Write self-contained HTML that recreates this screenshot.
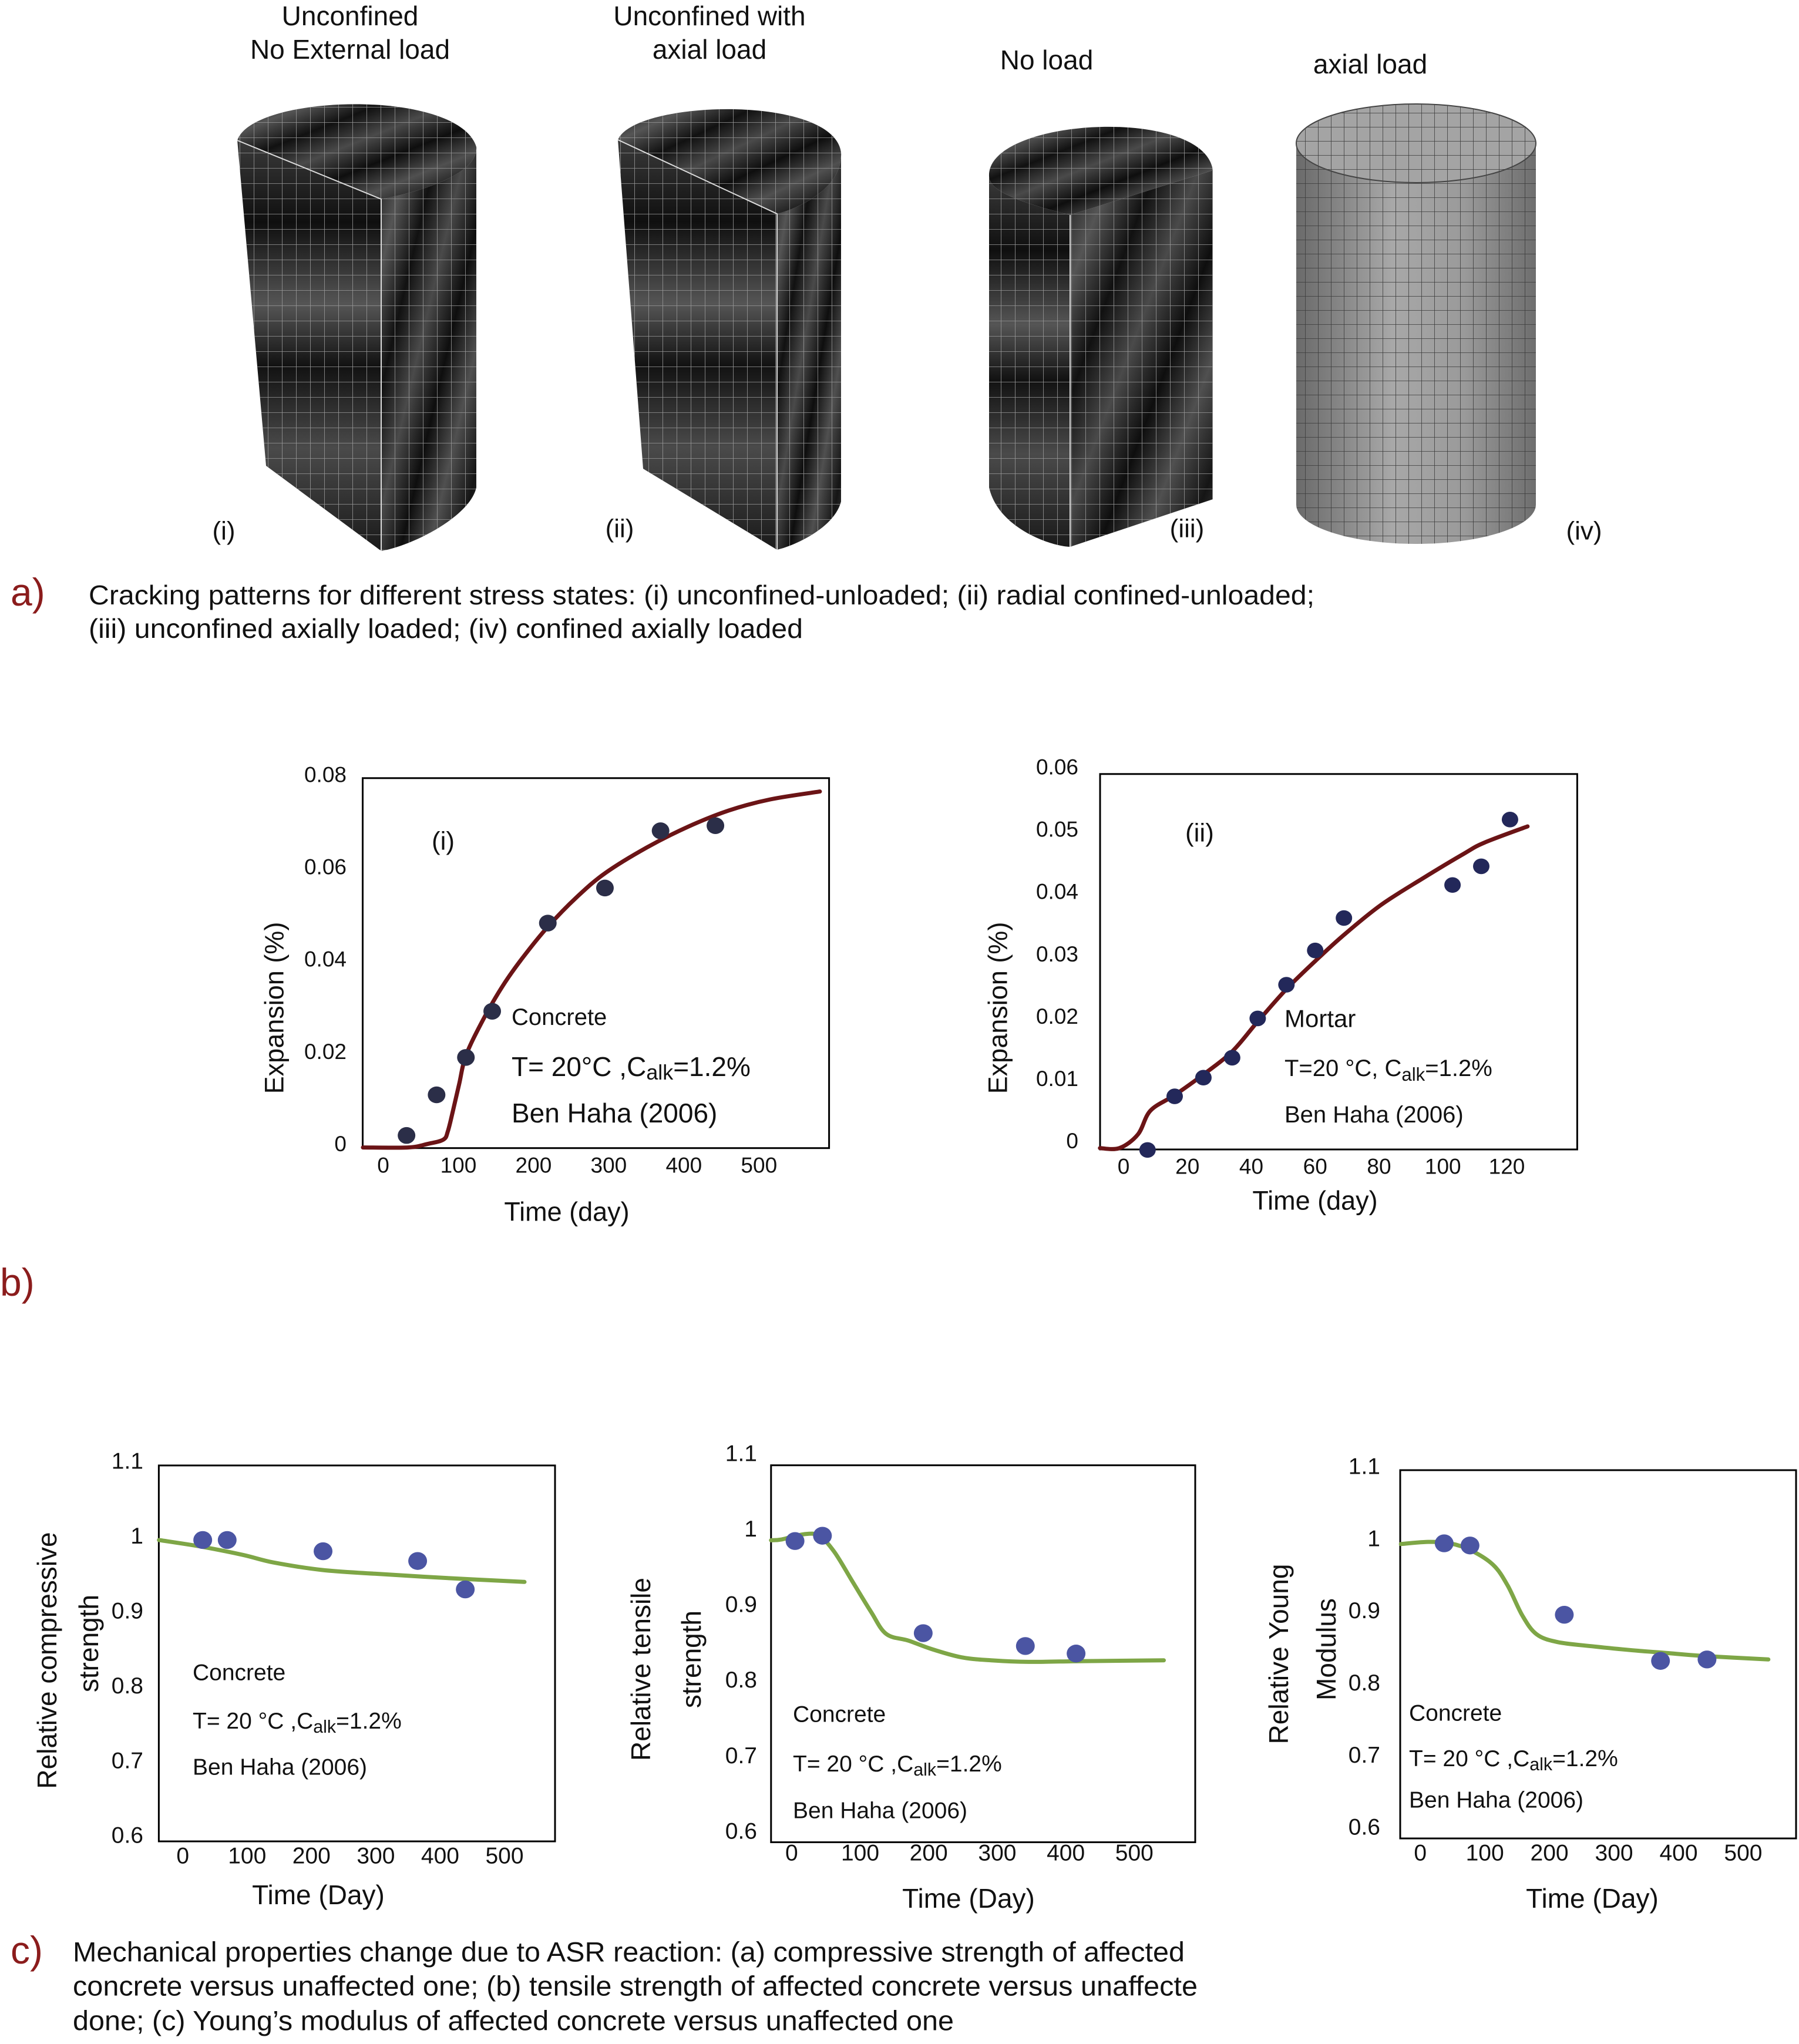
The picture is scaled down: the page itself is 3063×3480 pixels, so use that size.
<!DOCTYPE html>
<html><head><meta charset="utf-8"><style>
html,body{margin:0;padding:0;background:#fff}
svg{display:block;font-family:"Liberation Sans",Arial,sans-serif}
</style></head><body>
<svg id="root" width="3063" height="3480" viewBox="0 0 3063 3480" xmlns="http://www.w3.org/2000/svg">
<defs>
<pattern id="gridDark" width="24" height="26" patternUnits="userSpaceOnUse"><path d="M0 0H24M0 0V26" stroke="#9a9a9a" stroke-width="1.6" fill="none"/></pattern>
<pattern id="gridLight" width="22" height="24" patternUnits="userSpaceOnUse"><path d="M0 0H22M0 0V24" stroke="#3a3a3a" stroke-width="1.6" fill="none"/></pattern>
<linearGradient id="mottle" x1="0" y1="0" x2="1" y2="1">
<stop offset="0" stop-color="#1c1c1c"/><stop offset="0.15" stop-color="#555"/><stop offset="0.3" stop-color="#111"/><stop offset="0.45" stop-color="#4a4a4a"/><stop offset="0.6" stop-color="#0e0e0e"/><stop offset="0.75" stop-color="#505050"/><stop offset="0.9" stop-color="#151515"/><stop offset="1" stop-color="#3c3c3c"/></linearGradient>
<linearGradient id="mottle2" x1="0" y1="0" x2="0" y2="1">
<stop offset="0" stop-color="#3a3a3a"/><stop offset="0.2" stop-color="#0f0f0f"/><stop offset="0.4" stop-color="#555"/><stop offset="0.55" stop-color="#121212"/><stop offset="0.75" stop-color="#4a4a4a"/><stop offset="1" stop-color="#1a1a1a"/></linearGradient>
<linearGradient id="greyCyl" x1="0" y1="0" x2="1" y2="0">
<stop offset="0" stop-color="#6a6a6a"/><stop offset="0.4" stop-color="#a8a8a8"/><stop offset="0.7" stop-color="#9a9a9a"/><stop offset="1" stop-color="#6e6e6e"/></linearGradient>
</defs>

<!-- Top titles -->
<g font-size="46" text-anchor="middle" fill="#111">
<text x="596" y="27" dominant-baseline="central">Unconfined</text>
<text x="596" y="84" dominant-baseline="central">No External load</text>
<text x="1208" y="27" dominant-baseline="central">Unconfined with</text>
<text x="1208" y="84" dominant-baseline="central">axial load</text>
<text x="1782" y="102" dominant-baseline="central">No load</text>
<text x="2333" y="109" dominant-baseline="central">axial load</text>
</g>

<!-- Cylinder i -->
<g>
<path d="M404,239 L649,339 L649,938 L453,793 Z" fill="url(#mottle2)"/>
<path d="M404,239 L649,339 L649,938 L453,793 Z" fill="url(#gridDark)"/>
<path d="M649,339 C700,330 815,300 811,250 L811,830 C800,880 700,930 649,938 Z" fill="url(#mottle)"/>
<path d="M649,339 C700,330 815,300 811,250 L811,830 C800,880 700,930 649,938 Z" fill="url(#gridDark)"/>
<path d="M404,239 C430,160 780,150 811,250 C815,300 700,330 649,339 Z" fill="url(#mottle)"/>
<path d="M404,239 C430,160 780,150 811,250 C815,300 700,330 649,339 Z" fill="url(#gridDark)"/>
<path d="M404,239 L649,339 L649,938" stroke="#ddd" stroke-width="2" fill="none"/>
</g>
<!-- Cylinder ii -->
<g>
<path d="M1052,238 L1323,364 L1323,936 L1095,798 Z" fill="url(#mottle2)"/>
<path d="M1052,238 L1323,364 L1323,936 L1095,798 Z" fill="url(#gridDark)"/>
<path d="M1323,364 C1360,355 1435,320 1432,260 L1432,854 C1420,900 1350,930 1323,936 Z" fill="url(#mottle)"/>
<path d="M1323,364 C1360,355 1435,320 1432,260 L1432,854 C1420,900 1350,930 1323,936 Z" fill="url(#gridDark)"/>
<path d="M1052,238 C1080,170 1420,160 1432,260 C1435,320 1360,355 1323,364 Z" fill="url(#mottle)"/>
<path d="M1052,238 C1080,170 1420,160 1432,260 C1435,320 1360,355 1323,364 Z" fill="url(#gridDark)"/>
<path d="M1052,238 L1323,364 L1323,936" stroke="#ddd" stroke-width="2" fill="none"/>
</g>
<!-- Cylinder iii -->
<g>
<path d="M1684,300 L1684,830 C1700,900 1790,930 1822,931 L1822,366 C1760,350 1684,330 1684,300 Z" fill="url(#mottle2)"/>
<path d="M1684,300 L1684,830 C1700,900 1790,930 1822,931 L1822,366 C1760,350 1684,330 1684,300 Z" fill="url(#gridDark)"/>
<path d="M1822,366 L2065,290 L2065,850 L1822,931 Z" fill="url(#mottle)"/>
<path d="M1822,366 L2065,290 L2065,850 L1822,931 Z" fill="url(#gridDark)"/>
<path d="M1684,300 C1680,200 2050,180 2065,290 L1822,366 C1760,350 1684,330 1684,300 Z" fill="url(#mottle)"/>
<path d="M1684,300 C1680,200 2050,180 2065,290 L1822,366 C1760,350 1684,330 1684,300 Z" fill="url(#gridDark)"/>
<path d="M1822,366 L1822,931" stroke="#ddd" stroke-width="2" fill="none"/>
</g>
<!-- Cylinder iv -->
<g>
<path d="M2207,244 L2207,859 A204,67 0 0 0 2615,859 L2615,244 Z" fill="url(#greyCyl)"/>
<path d="M2207,244 L2207,859 A204,67 0 0 0 2615,859 L2615,244 Z" fill="url(#gridLight)"/>
<ellipse cx="2411" cy="244" rx="204" ry="67" fill="#a4a4a4"/>
<ellipse cx="2411" cy="244" rx="204" ry="67" fill="url(#gridLight)"/>
<ellipse cx="2411" cy="244" rx="204" ry="67" fill="none" stroke="#444" stroke-width="2"/>
</g>

<g font-size="44" fill="#111" text-anchor="middle">
<text x="381" y="904" dominant-baseline="central">(i)</text>
<text x="1055" y="900" dominant-baseline="central">(ii)</text>
<text x="2021" y="900" dominant-baseline="central">(iii)</text>
<text x="2697" y="904" dominant-baseline="central">(iv)</text>
</g>

<text x="18" y="1008" font-size="66" fill="#8b1c1c" dominant-baseline="central">a)</text>
<text x="151" y="1013" font-size="46" fill="#111" dominant-baseline="central" textLength="2087" lengthAdjust="spacingAndGlyphs">Cracking patterns for different stress states: (i) unconfined-unloaded; (ii) radial confined-unloaded;</text>
<text x="151" y="1070" font-size="46" fill="#111" dominant-baseline="central" textLength="1216" lengthAdjust="spacingAndGlyphs">(iii) unconfined axially loaded; (iv) confined axially loaded</text>

<text x="0" y="2183" font-size="66" fill="#8b1c1c" dominant-baseline="central">b)</text>

<text x="18" y="3320" font-size="66" fill="#8b1c1c" dominant-baseline="central">c)</text>
<text x="124" y="3323" font-size="47" fill="#111" dominant-baseline="central" textLength="1893" lengthAdjust="spacingAndGlyphs">Mechanical properties change due to ASR reaction: (a) compressive strength of affected</text>
<text x="124" y="3381" font-size="47" fill="#111" dominant-baseline="central" textLength="1915" lengthAdjust="spacingAndGlyphs">concrete versus unaffected one; (b) tensile strength of affected concrete versus unaffecte</text>
<text x="124" y="3440" font-size="47" fill="#111" dominant-baseline="central" textLength="1500" lengthAdjust="spacingAndGlyphs">done; (c) Young’s modulus of affected concrete versus unaffected one</text>
</svg>

<script>
// ---- Chart data ----
const b1Days=[31,71,110,145,219,295,369,442];
const b1Exp=[0.0026,0.0114,0.0195,0.0295,0.0486,0.0562,0.0686,0.0697];
const b1CurveDays=[-27,33,60,80,86,93,101,110,132,159,186,219,258,296,351,406,460,515,581];
const b1CurveExp=[0,0,0.0008,0.0017,0.0035,0.0081,0.0137,0.0199,0.0274,0.035,0.0412,0.0478,0.0543,0.0595,0.065,0.0695,0.073,0.0754,0.0771];
const b1XTicks=[0,100,200,300,400,500];
const b1YTicks=[0,0.02,0.04,0.06,0.08];
const b1YLabels=['0','0.02','0.04','0.06','0.08'];

const b2Days=[7.5,16,25,34,42,51,60,69,103,112,121];
const b2Exp=[-0.0003,0.0083,0.0113,0.0145,0.0208,0.0262,0.0317,0.0369,0.0422,0.0452,0.0527];
const b2CurveDays=[-7.4,-1.3,4.5,8.4,16,25,34,42,51,60,69,80.6,93.5,106.5,113,126.5];
const b2CurveExp=[0,0,0.0022,0.006,0.0085,0.0118,0.0155,0.0203,0.0255,0.030,0.0342,0.039,0.0432,0.0472,0.049,0.0516];
const b2XTicks=[0,20,40,60,80,100,120];
const b2YTicks=[0,0.01,0.02,0.03,0.04,0.05,0.06];
const b2YLabels=['0','0.01','0.02','0.03','0.04','0.05','0.06'];

const c1Days=[31,69,218,365,439];
const c1Vals=[0.995,0.995,0.980,0.967,0.929];
const c1CurveDays=[-37,30,94,141,216,298,414,531];
const c1CurveVals=[0.995,0.986,0.975,0.965,0.955,0.950,0.944,0.939];

const c2Days=[5,45,192,341,415];
const c2Vals=[0.989,0.996,0.867,0.850,0.840];
const c2CurveDays=[-30,-15,18,40,62,89,116,138,171,204,248,291,346,428,543];
const c2CurveVals=[0.990,0.991,0.998,0.996,0.975,0.935,0.895,0.866,0.857,0.846,0.835,0.831,0.829,0.830,0.831];

const c3Days=[37,77,223,372,444];
const c3Vals=[0.997,0.994,0.898,0.834,0.836];
const c3CurveDays=[-30,12,46,79,113,135,158,180,213,269,325,381,437,539];
const c3CurveVals=[0.996,0.999,0.997,0.987,0.967,0.939,0.897,0.871,0.860,0.854,0.849,0.845,0.841,0.836];

const cXTicks=[0,100,200,300,400,500];
const cYTicks=[0.6,0.7,0.8,0.9,1,1.1];
const cYLabels=['0.6','0.7','0.8','0.9','1','1.1'];

const NS='http://www.w3.org/2000/svg';
const root=document.getElementById('root');
function mk(tag,attrs,parent){const e=document.createElementNS(NS,tag);for(const k in attrs)e.setAttribute(k,attrs[k]);(parent||root).appendChild(e);return e;}

function smoothPath(pts){
  let d='M'+pts[0][0].toFixed(1)+','+pts[0][1].toFixed(1);
  for(let i=0;i<pts.length-1;i++){
    const p0=pts[i-1]||pts[i],p1=pts[i],p2=pts[i+1],p3=pts[i+2]||p2;
    const c1x=p1[0]+(p2[0]-p0[0])/6,c1y=p1[1]+(p2[1]-p0[1])/6;
    const c2x=p2[0]-(p3[0]-p1[0])/6,c2y=p2[1]-(p3[1]-p1[1])/6;
    d+=' C'+c1x.toFixed(1)+','+c1y.toFixed(1)+' '+c2x.toFixed(1)+','+c2y.toFixed(1)+' '+p2[0].toFixed(1)+','+p2[1].toFixed(1);
  }
  return d;
}

function chart(cfg){
  const g=mk('g',{});
  
  
  const X=d=>cfg.x0+d*cfg.xs, Y=v=>cfg.y0-(v-cfg.v0)*cfg.ys;
  const box=mk('rect',{x:cfg.box[0],y:cfg.box[1],width:cfg.box[2]-cfg.box[0],height:cfg.box[3]-cfg.box[1],fill:'none',stroke:'#000','stroke-width':3},g);
  
  
  cfg.xTicks.forEach(t=>{
    const tx=mk('text',{x:X(t),y:cfg.xLabelY,'font-size':cfg.tickFs,'text-anchor':'middle','dominant-baseline':'central',fill:'#111'},g);
    tx.textContent=String(t);
    
    
  });
  cfg.yTicks.forEach((t,i)=>{
    const ty=mk('text',{x:cfg.yLabelX,y:Y(t)+cfg.yLabOff,'font-size':cfg.tickFs,'text-anchor':'end','dominant-baseline':'central',fill:'#111'},g);
    ty.textContent=cfg.yLabels[i];
    
    
  });
  const pts=cfg.cx.map((d,i)=>[X(d),Y(cfg.cy[i])]);
  const line=mk('path',{d:smoothPath(pts),fill:'none',stroke:cfg.lineColor,'stroke-width':7,'stroke-linecap':'round','stroke-linejoin':'round'},g);
  
  
  cfg.px.forEach((d,i)=>{
    const c=mk('ellipse',{cx:X(d),cy:Y(cfg.py[i]),rx:cfg.r,ry:cfg.r*0.95,fill:cfg.dotColor},g);
    
    
  });
  const xt=mk('text',{x:cfg.xTitle[0],y:cfg.xTitle[1],'font-size':cfg.titleFs,'text-anchor':'middle','dominant-baseline':'central',fill:'#111'},g);
  xt.textContent=cfg.xTitle[2];
  
  
  cfg.yTitles.forEach(t=>{
    const yt=mk('text',{x:t[0],y:t[1],'font-size':cfg.titleFs,'text-anchor':'middle','dominant-baseline':'central',fill:'#111',transform:'rotate(-90 '+t[0]+' '+t[1]+')'},g);
    yt.textContent=t[2];
    
    
  });
  cfg.notes.forEach(n=>{
    const t=mk('text',{x:n[0],y:n[1],'font-size':n[3]||cfg.noteFs,'dominant-baseline':'central',fill:'#111'},g);
    
    
    if(n[2]==='TEMP'){
      const a=mk('tspan',{},t);a.textContent=cfg.tempPre;
      const s=mk('tspan',{dy:10,'font-size':(n[3]||cfg.noteFs)*0.78},t);s.textContent='alk';
      const b=mk('tspan',{dy:-10},t);b.textContent='=1.2%';
    } else t.textContent=n[2];
  });
}

chart({name:'chart-concrete-expansion',box:[617.5,1324.8,1411.6,1954.7],x0:652.5,xs:1.2796,y0:1953.6,v0:0,ys:7860,
  xTicks:b1XTicks,yTicks:b1YTicks,yLabels:b1YLabels,xLabelY:1984,yLabelX:590,yLabOff:-6,tickFs:37,titleFs:45,noteFs:42,
  cx:b1CurveDays,cy:b1CurveExp,px:b1Days,py:b1Exp,r:15,lineColor:'#6b1416',dotColor:'#2b2e48',
  xTitle:[965,2063,'Time (day)'],yTitles:[[467,1716,'Expansion (%)']],tempPre:'T= 20°C ,C',
  notes:[[735,1432,'(i)',44],[871,1732,'Concrete',40],[871,1816,'TEMP',46],[871,1895,'Ben Haha (2006)',46]]});

chart({name:'chart-mortar-expansion',box:[1873,1317.8,2685.4,1957],x0:1913,xs:5.4375,y0:1954.7,v0:0,ys:10615,
  xTicks:b2XTicks,yTicks:b2YTicks,yLabels:b2YLabels,xLabelY:1986,yLabelX:1836,yLabOff:-12,tickFs:37,titleFs:45,noteFs:40,
  cx:b2CurveDays,cy:b2CurveExp,px:b2Days,py:b2Exp,r:14,lineColor:'#6b1416',dotColor:'#23285a',
  xTitle:[2239,2044,'Time (day)'],yTitles:[[1699,1716,'Expansion (%)']],tempPre:'T=20 °C, C',
  notes:[[2018,1418,'(ii)',44],[2187,1734,'Mortar',42],[2187,1819,'TEMP',40],[2187,1898,'Ben Haha (2006)',40]]});

chart({name:'chart-compressive-strength',box:[270.4,2495,945,3135],x0:311.2,xs:1.0956,y0:2615.6,v0:1,ys:1274,
  xTicks:cXTicks,yTicks:cYTicks,yLabels:cYLabels,xLabelY:3160,yLabelX:244,yLabOff:0,tickFs:39,titleFs:46,noteFs:39,
  cx:c1CurveDays,cy:c1CurveVals,px:c1Days,py:c1Vals,r:16,lineColor:'#7ea646',dotColor:'#4b55a3',
  xTitle:[542,3226,'Time (Day)'],yTitles:[[80,2827,'Relative compressive'],[151,2798,'strength']],tempPre:'T= 20 °C ,C',
  notes:[[328,2848,'Concrete'],[328,2930,'TEMP'],[328,3009,'Ben Haha (2006)']]});

chart({name:'chart-tensile-strength',box:[1312.8,2494.7,2035,3136.5],x0:1347.8,xs:1.1671,y0:2609.5,v0:1,ys:1286,
  xTicks:cXTicks,yTicks:cYTicks,yLabels:cYLabels,xLabelY:3155,yLabelX:1289,yLabOff:-6,tickFs:39,titleFs:46,noteFs:39,
  cx:c2CurveDays,cy:c2CurveVals,px:c2Days,py:c2Vals,r:16,lineColor:'#7ea646',dotColor:'#4b55a3',
  xTitle:[1649,3232,'Time (Day)'],yTitles:[[1091,2842,'Relative tensile'],[1177,2825,'strength']],tempPre:'T= 20 °C ,C',
  notes:[[1350,2919,'Concrete'],[1350,3003,'TEMP'],[1350,3083,'Ben Haha (2006)']]});

chart({name:'chart-young-modulus',box:[2384,2503,3058,3130],x0:2418.2,xs:1.0995,y0:2623.9,v0:1,ys:1228,
  xTicks:cXTicks,yTicks:cYTicks,yLabels:cYLabels,xLabelY:3155,yLabelX:2350,yLabOff:-4,tickFs:39,titleFs:46,noteFs:39,
  cx:c3CurveDays,cy:c3CurveVals,px:c3Days,py:c3Vals,r:16,lineColor:'#7ea646',dotColor:'#4b55a3',
  xTitle:[2711,3232,'Time (Day)'],yTitles:[[2177,2816,'Relative Young'],[2258,2808,'Modulus']],tempPre:'T= 20 °C ,C',
  notes:[[2399,2917,'Concrete'],[2399,2994,'TEMP'],[2399,3065,'Ben Haha (2006)']]});
</script>
</body></html>
